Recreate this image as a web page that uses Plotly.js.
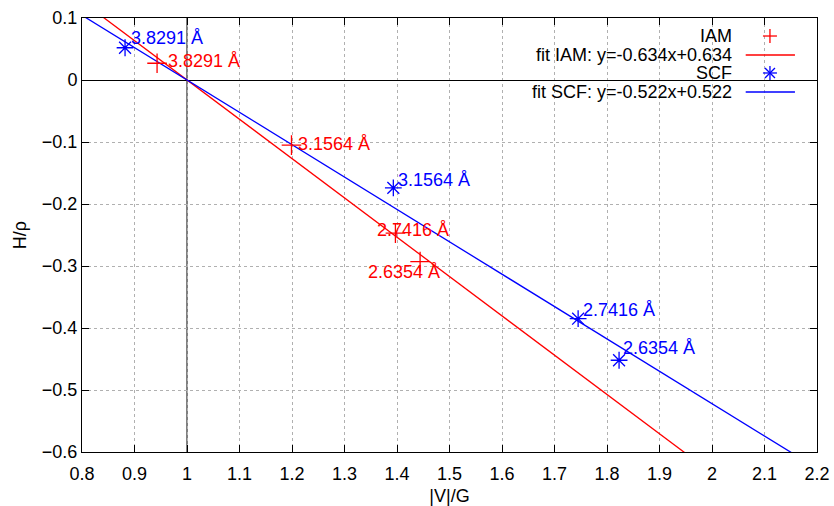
<!DOCTYPE html>
<html>
<head>
<meta charset="utf-8">
<script src="https://cdn.plot.ly/plotly-3.0.1.min.js"></script>
<style>html,body{margin:0;padding:0;background:#fff}#chart{width:834px;height:506px}</style>
</head>
<body>
<div id="chart"></div>
<script>
// ---- data ----
const distLabels = ["3.8291 Å", "3.1564 Å", "2.7416 Å", "2.6354 Å"];
const iamX = [0.943, 1.199, 1.397, 1.444];
const iamY = [0.027, -0.105, -0.247, -0.293];
const scfX = [0.882, 1.393, 1.745, 1.823];
const scfY = [0.052, -0.174, -0.385, -0.452];
const fitIAM = {slope: -0.634, intercept: 0.634};
const fitSCF = {slope: -0.522, intercept: 0.522};
const xRange = [0.8, 2.2];
const yRange = [-0.6, 0.1];
const legendTexts = ["IAM", "fit IAM: y=-0.634x+0.634", "SCF", "fit SCF: y=-0.522x+0.522"];

// ---- styles ----
const RED = "#ff0000", BLUE = "#0000ff";
const FONT = "Liberation Sans, Arial, sans-serif";
const FS = 18;
const iamShift = [[9, 2], [5, 1], [-20, 3], [-54, -10]];
const scfShift = [[4, 10], [3, 8], [3, 9], [2, 12]];

function fitLine(f) {
  return {x: xRange.slice(), y: xRange.map(v => f.slope * v + f.intercept)};
}
const fI = fitLine(fitIAM), fS = fitLine(fitSCF);

const traces = [
  {x: fI.x, y: fI.y, mode: "lines", line: {color: RED, width: 1.3}, hoverinfo: "skip"},
  {x: fS.x, y: fS.y, mode: "lines", line: {color: BLUE, width: 1.3}, hoverinfo: "skip"},
  {x: iamX, y: iamY, mode: "markers", marker: {symbol: "cross-thin-open", size: 14, color: RED, line: {color: RED, width: 1.3}}},
  {x: scfX, y: scfY, mode: "markers", marker: {symbol: "asterisk-open", size: 14, color: BLUE, line: {color: BLUE, width: 1.3}}}
];

const annotations = [];
distLabels.forEach((t, i) => {
  annotations.push({x: iamX[i], y: iamY[i], text: t, showarrow: false, xanchor: "left", yanchor: "middle",
    xshift: iamShift[i][0], yshift: iamShift[i][1], font: {family: FONT, size: FS, color: RED}});
  annotations.push({x: scfX[i], y: scfY[i], text: t, showarrow: false, xanchor: "left", yanchor: "middle",
    xshift: scfShift[i][0], yshift: scfShift[i][1], font: {family: FONT, size: FS, color: BLUE}});
});

// legend (gnuplot style: text right, sample on the right)
const legY = [0.9585, 0.9147, 0.8733, 0.8295];
const legTextX = 0.8857, legX0 = 0.903, legX1 = 0.970, legMX = 0.936;
legendTexts.forEach((t, i) => {
  annotations.push({xref: "paper", yref: "paper", x: legTextX, y: legY[i], text: t, showarrow: false,
    xanchor: "right", yanchor: "middle", borderpad: 0, font: {family: FONT, size: FS, color: "#000"}});
});

const shapes = [
  {type: "line", xref: "x", yref: "paper", x0: 1, x1: 1, y0: 0, y1: 1, line: {color: "#000", width: 1}, layer: "between"},
  // legend samples
  {type: "line", xref: "paper", yref: "paper", x0: legX0, x1: legX1, y0: legY[1], y1: legY[1], line: {color: RED, width: 1.3}},
  {type: "line", xref: "paper", yref: "paper", x0: legX0, x1: legX1, y0: legY[3], y1: legY[3], line: {color: BLUE, width: 1.3}}
];
function pxLine(xa, ya, dx0, dy0, dx1, dy1, color) {
  return {type: "line", xref: "paper", yref: "paper", xsizemode: "pixel", ysizemode: "pixel",
    xanchor: xa, yanchor: ya, x0: dx0, x1: dx1, y0: dy0, y1: dy1, line: {color: color, width: 1.3}};
}
shapes.push(pxLine(legMX, legY[0], -7, 0, 7, 0, RED));
shapes.push(pxLine(legMX, legY[0], 0, -7, 0, 7, RED));
shapes.push(pxLine(legMX, legY[2], -7, 0, 7, 0, BLUE));
shapes.push(pxLine(legMX, legY[2], 0, -7, 0, 7, BLUE));
shapes.push(pxLine(legMX, legY[2], -5, -5, 5, 5, BLUE));
shapes.push(pxLine(legMX, legY[2], -5, 5, 5, -5, BLUE));

const axisCommon = {
  showline: true, linecolor: "#000", linewidth: 1, mirror: "ticks",
  ticks: "inside", ticklen: 7, tickcolor: "#000", tickwidth: 1,
  showgrid: true, gridcolor: "#b0b0b0", gridwidth: 1, griddash: "dot",
  tickfont: {family: FONT, size: FS, color: "#000"}
};

const layout = {
  width: 834, height: 506,
  margin: {l: 82, r: 17, t: 18, b: 54},
  paper_bgcolor: "#fff", plot_bgcolor: "#fff",
  showlegend: false,
  font: {family: FONT, size: FS, color: "#000"},
  xaxis: Object.assign({}, axisCommon, {range: xRange, dtick: 0.1, tick0: 0.8, zeroline: false,
    ticklabelstandoff: 5,
    title: {text: "|V|/G", font: {family: FONT, size: FS}, standoff: 18}}),
  yaxis: Object.assign({}, axisCommon, {range: yRange, dtick: 0.1, tick0: -0.6,
    zeroline: true, zerolinecolor: "#000", zerolinewidth: 1,
    title: {text: "H/ρ", font: {family: FONT, size: FS}, standoff: 10}}),
  annotations: annotations,
  shapes: shapes
};

Plotly.newPlot("chart", traces, layout, {staticPlot: true, displayModeBar: false});
</script>
</body>
</html>
